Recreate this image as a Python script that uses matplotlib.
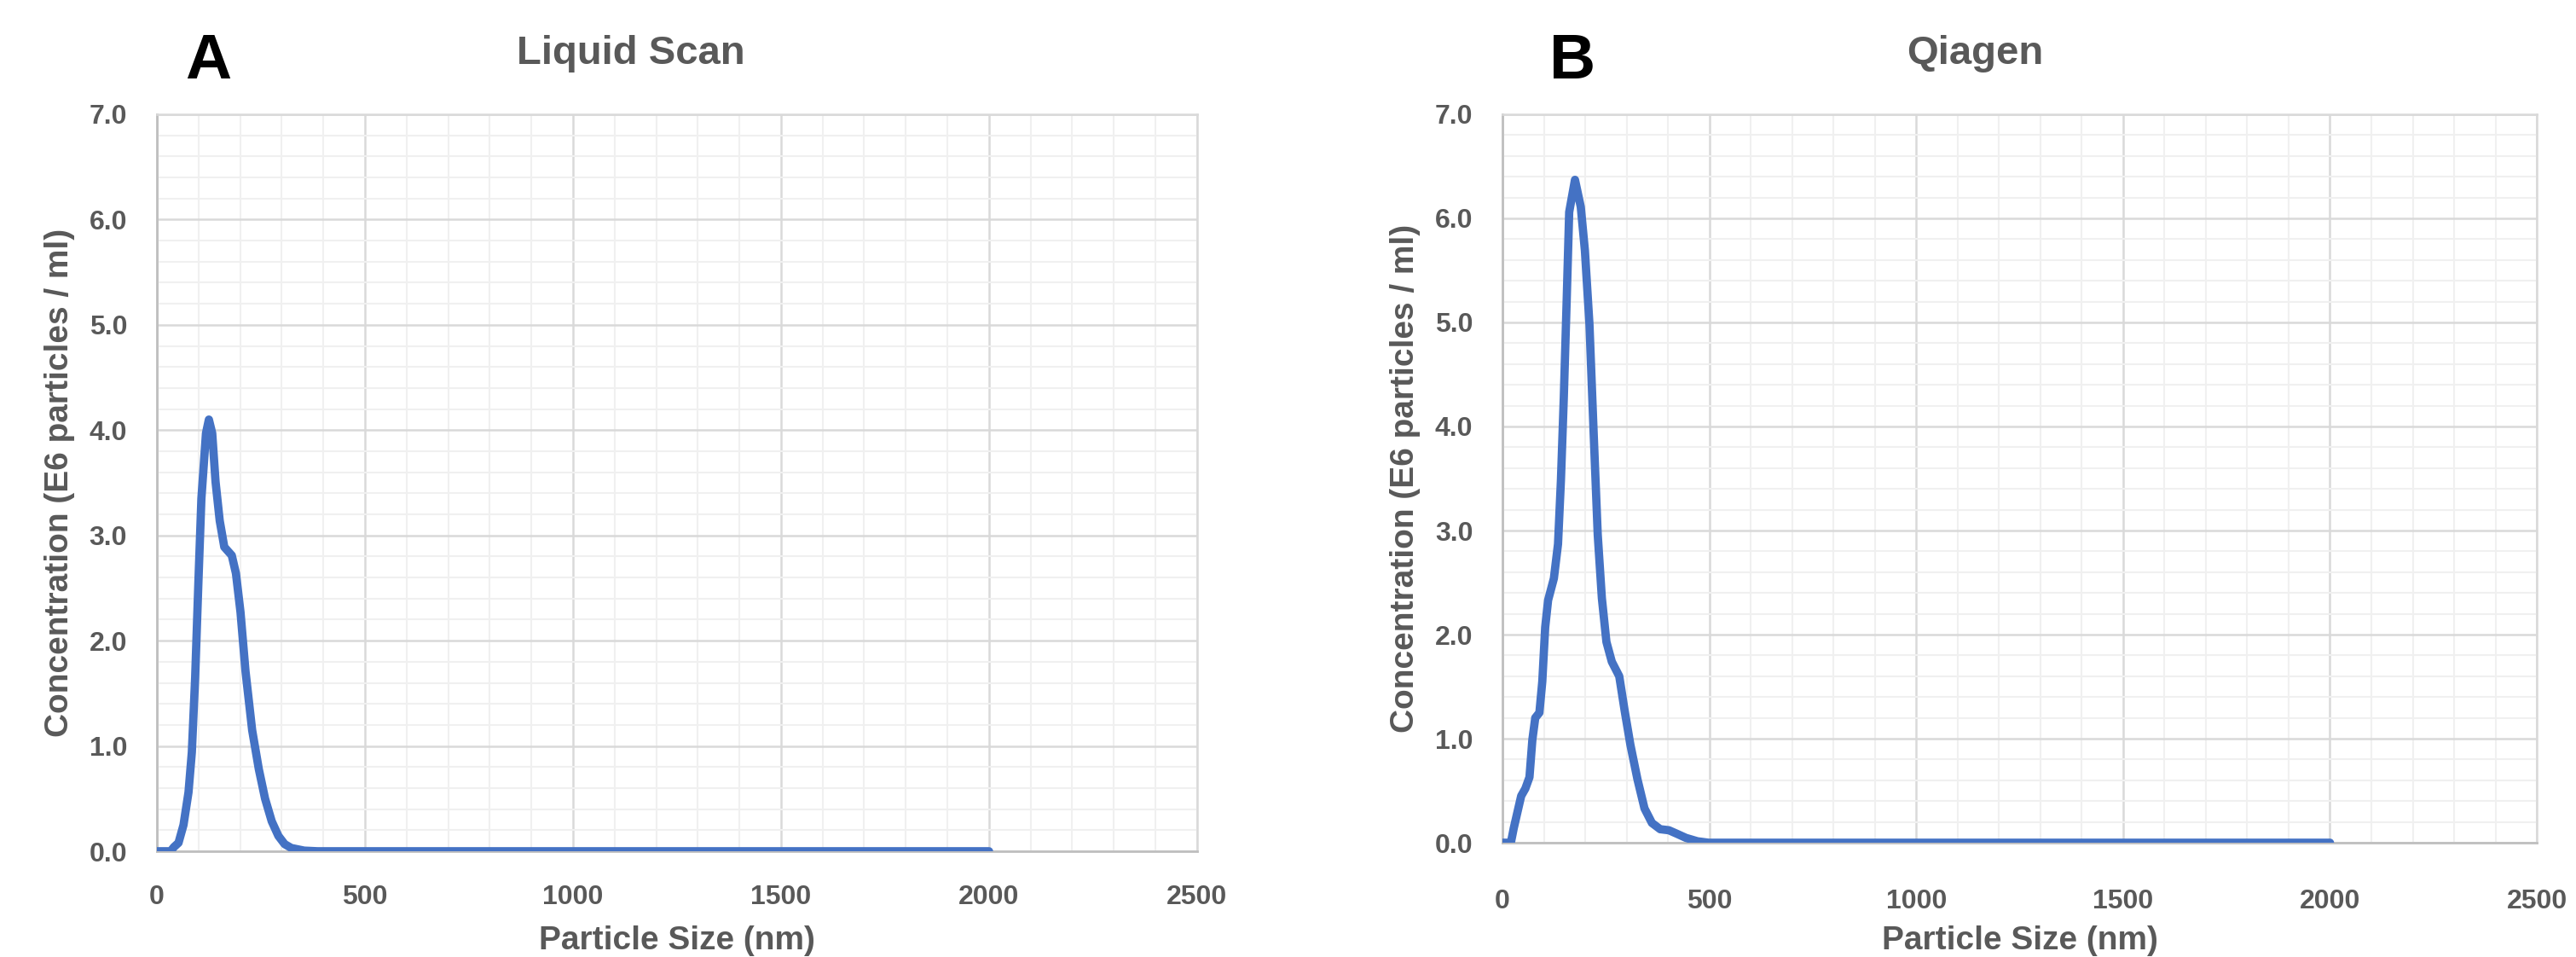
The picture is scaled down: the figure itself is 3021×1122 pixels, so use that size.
import matplotlib
matplotlib.use("Agg")
import matplotlib.pyplot as plt
from matplotlib.ticker import MultipleLocator, FormatStrFormatter

plt.rcParams['font.family'] = ['Liberation Sans', 'DejaVu Sans']

# Liquid Scan (panel A)
size_a = [0, 33, 41, 52, 64, 76, 84, 92, 100, 107, 118, 125, 133, 141, 151, 162, 180,
          190, 201, 213, 229, 245, 260, 276, 292, 307, 323, 354, 386, 500, 1000, 1500, 2000]
conc_a = [0, 0, 0.04, 0.08, 0.25, 0.56, 0.94, 1.65, 2.58, 3.35, 3.97, 4.10, 3.97, 3.51, 3.14, 2.89, 2.81,
          2.64, 2.27, 1.71, 1.15, 0.78, 0.50, 0.285, 0.146, 0.068, 0.031, 0.006, 0, 0, 0, 0, 0]

# Qiagen (panel B)
size_b = [0, 20, 27, 38, 45, 55, 65, 72, 79, 89, 96, 103, 110, 124, 134, 141, 148, 155, 161,
          175, 189, 199, 210, 220, 230, 240, 251, 264, 282, 295, 309, 326, 343, 361, 381,
          402, 422, 443, 471, 498, 1000, 1500, 2000]
conc_b = [0, 0, 0.14, 0.33, 0.45, 0.52, 0.63, 0.99, 1.20, 1.25, 1.55, 2.07, 2.33, 2.54, 2.87, 3.48, 4.28, 5.22, 6.06,
          6.37, 6.11, 5.69, 4.98, 3.95, 2.96, 2.35, 1.93, 1.74, 1.60, 1.27, 0.94, 0.61, 0.33, 0.19, 0.13,
          0.12, 0.085, 0.047, 0.014, 0, 0, 0, 0]

TXT = '#595959'
BLUE = '#4472C4'

fig = plt.figure(figsize=(30.21, 11.22), dpi=100)
ax_a = fig.add_axes([0.0609, 0.1105, 0.4038, 0.7701])
ax_b = fig.add_axes([0.5833, 0.1194, 0.4015, 0.7612])


def style(ax, x, y, xlab_y, xpad):
    ax.plot(x, y, color=BLUE, lw=7.0, solid_joinstyle='round', solid_capstyle='round', zorder=3)
    ax.set_xlim(0, 2500)
    ax.set_ylim(0, 7)
    ax.xaxis.set_major_locator(MultipleLocator(500))
    ax.xaxis.set_minor_locator(MultipleLocator(100))
    ax.yaxis.set_major_locator(MultipleLocator(1))
    ax.yaxis.set_minor_locator(MultipleLocator(0.2))
    ax.yaxis.set_major_formatter(FormatStrFormatter('%.1f'))
    ax.grid(which='minor', color='#f0f0f0', lw=1.5, zorder=0)
    ax.grid(which='major', color='#d9d9d9', lw=1.8, zorder=1)
    ax.set_axisbelow(True)
    ax.tick_params(which='both', length=0)
    ax.tick_params(axis='x', pad=xpad, labelsize=23, labelcolor=TXT)
    ax.tick_params(axis='y', pad=25, labelsize=23, labelcolor=TXT)
    for lab in ax.get_xticklabels() + ax.get_yticklabels():
        lab.set_fontweight('bold')
    for s in ['top', 'right']:
        ax.spines[s].set_color('#d9d9d9')
        ax.spines[s].set_linewidth(1.8)
    for s in ['left', 'bottom']:
        ax.spines[s].set_color('#bfbfbf')
        ax.spines[s].set_linewidth(2)
    ax.set_xlabel('Particle Size (nm)', fontsize=28, fontweight='bold', color=TXT, va='center')
    ax.set_ylabel('Concentration (E6 particles / ml)', fontsize=28, fontweight='bold', color=TXT, va='center')
    ax.xaxis.set_label_coords(0.5, xlab_y)


style(ax_a, size_a, conc_a, -0.1215, 28)
ax_a.yaxis.set_label_coords(-0.0934, 0.5)
style(ax_b, size_b, conc_b, -0.135, 39)
ax_b.yaxis.set_label_coords(-0.094, 0.5)

fig.text(0.245, 0.9439, 'Liquid Scan', ha='center', va='center', fontsize=34, fontweight='bold', color=TXT)
fig.text(0.7666, 0.9439, 'Qiagen', ha='center', va='center', fontsize=34, fontweight='bold', color=TXT)
fig.text(0.0808, 0.9358, 'A', ha='center', va='center', fontsize=54, fontweight='bold', color='black')
fig.text(0.6104, 0.9358, 'B', ha='center', va='center', fontsize=54, fontweight='bold', color='black')

fig.savefig('out.png', dpi=100)
